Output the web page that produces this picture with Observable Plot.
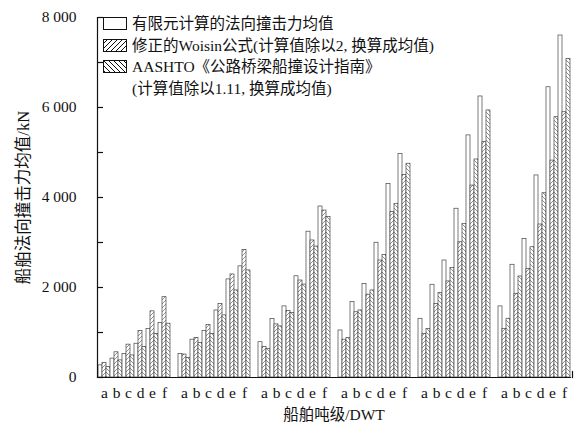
<!DOCTYPE html>
<html>
<head>
<meta charset="utf-8">
<script src="https://cdn.jsdelivr.net/npm/d3@7"></script>
<script src="https://cdn.jsdelivr.net/npm/@observablehq/plot@0.6"></script>
<style>
  body { margin: 0; background: #fff; }
  #wrap { position: relative; width: 577px; height: 431px; overflow: hidden; }
  #legend { position: absolute; left: 103px; top: 13px; font-family: "Liberation Serif", "Noto Sans CJK SC", serif; font-size: 15.5px; line-height: 21.5px; color: #111; }
  #legend .row { display: flex; align-items: center; white-space: nowrap; }
  #legend svg { margin-right: 5px; flex: none; }
  #legend .indent { padding-left: 29px; }
</style>
</head>
<body>
<div id="wrap"><div id="legend"></div></div>
<script>
// ---- data ----
const tonnage = ["1", "2", "3", "4", "5", "6"];          // ship tonnage classes (6 groups)
const cases = ["a", "b", "c", "d", "e", "f"];            // sub-cases under each class
const seriesNames = [
  "有限元计算的法向撞击力均值",
  "修正的Woisin公式(计算值除以2, 换算成均值)",
  "AASHTO《公路桥梁船撞设计指南》(计算值除以1.11, 换算成均值)"
];
// finite element mean normal impact force (kN), rows = tonnage, cols = a..f
const femValues = [
  [270, 420, 525, 750, 1080, 1210],
  [525, 840, 1030, 1490, 2180, 2470],
  [785, 1300, 1580, 2250, 3240, 3800],
  [1045, 1675, 2080, 2995, 4300, 4970],
  [1305, 2060, 2600, 3750, 5380, 6245],
  [1580, 2505, 3080, 4490, 6450, 7600]
];
// modified Woisin formula (/2)
const woisinValues = [
  [320, 560, 730, 1030, 1470, 1785],
  [510, 880, 1170, 1635, 2290, 2835],
  [675, 1180, 1475, 2155, 3045, 3710],
  [840, 1450, 1840, 2600, 3675, 4500],
  [970, 1635, 2135, 3005, 4265, 5230],
  [1080, 1860, 2415, 3400, 4820, 5895]
];
// AASHTO guide (/1.11)
const aashtoValues = [
  [230, 380, 490, 680, 970, 1195],
  [435, 765, 970, 1380, 1935, 2380],
  [635, 1135, 1430, 2065, 2910, 3565],
  [875, 1490, 1935, 2725, 3860, 4750],
  [1080, 1875, 2435, 3415, 4845, 5935],
  [1305, 2245, 2895, 4095, 5785, 7080]
];
const yLabelTicks = [0, 2000, 4000, 6000, 8000];
const yMinorTicks = [0, 1000, 2000, 3000, 4000, 5000, 6000, 7000, 8000];

// ---- table for the library ----
const seriesValues = [femValues, woisinValues, aashtoValues];
const keys = [];
cases.forEach(c => seriesNames.forEach((s, si) => keys.push(c + "-" + si)));
const rows = [];
tonnage.forEach((g, gi) => cases.forEach((c, ci) => seriesNames.forEach((s, si) => {
  rows.push({group: g, key: c + "-" + si, series: s, value: seriesValues[si][gi][ci]});
})));

const fmt = d => d === 0 ? "0" : d3.format(",")(d).replace(/,/g, " ");
const serif = '"Liberation Serif", "Noto Sans CJK SC", serif';

const chart = Plot.plot({
  width: 577,
  height: 431,
  marginLeft: 95,
  marginRight: 6,
  marginTop: 17,
  marginBottom: 54,
  style: {fontFamily: serif, fontSize: "15.5px", color: "#111", background: "white"},
  fx: {domain: tonnage, paddingInner: 0.09, paddingOuter: 0, axis: null, label: null},
  x: {domain: keys, paddingInner: 0, paddingOuter: 0, label: null},
  y: {domain: [0, 8000], label: null},
  color: {domain: seriesNames, range: ["white", "url(#hatchR)", "url(#hatchL)"]},
  marks: [
    Plot.barY(rows, {fx: "group", x: "key", y: "value", fill: "series", stroke: "#444", strokeWidth: 0.7, inset: 0}),
    Plot.axisY({ticks: yLabelTicks, tickSize: 0, tickPadding: 21, tickFormat: fmt, label: null}),
    Plot.tickY(yMinorTicks, {y: d => d, x: () => keys[0], facetAnchor: "left", stroke: "#111", strokeWidth: 1.2, insetRight: -1}),
    Plot.axisX({ticks: keys.filter(k => k.endsWith("-1")), tickFormat: k => k[0], tickSize: 0, tickPadding: 9, label: null}),
    Plot.frame({anchor: "bottom", facet: "super", stroke: "#111", strokeWidth: 1.2}),
    Plot.frame({anchor: "left", facet: "super", stroke: "#111", strokeWidth: 1.2}),
    Plot.frame({anchor: "right", facet: "super", stroke: "#111", strokeWidth: 1.2, insetTop: 354, insetRight: -2}),
    Plot.text(["船舶吨级/DWT"], {facet: "super", frameAnchor: "bottom", dy: 38, lineAnchor: "middle", fontSize: 15.5}),
    Plot.text(["船舶法向撞击力均值/kN"], {facet: "super", frameAnchor: "left", dx: -74, rotate: -90, textAnchor: "middle", lineAnchor: "middle", fontSize: 16.5})
  ]
});

const ns = "http://www.w3.org/2000/svg";
const defs = document.createElementNS(ns, "defs");
defs.innerHTML = `
<pattern id="hatchR" patternUnits="userSpaceOnUse" width="4" height="4">
  <rect width="4" height="4" fill="white"/>
  <path d="M-1,1 l2,-2 M0,4 l4,-4 M3,5 l2,-2" stroke="#777" stroke-width="0.8"/>
</pattern>
<pattern id="hatchL" patternUnits="userSpaceOnUse" width="4" height="4">
  <rect width="4" height="4" fill="white"/>
  <path d="M-1,3 l2,2 M0,0 l4,4 M3,-1 l2,2" stroke="#777" stroke-width="0.8"/>
</pattern>
<pattern id="legR" patternUnits="userSpaceOnUse" width="5" height="5">
  <rect width="5" height="5" fill="white"/>
  <path d="M-1,1 l2,-2 M0,5 l5,-5 M4,6 l2,-2" stroke="#111" stroke-width="1"/>
</pattern>
<pattern id="legL" patternUnits="userSpaceOnUse" width="5" height="5">
  <rect width="5" height="5" fill="white"/>
  <path d="M-1,4 l2,2 M0,0 l5,5 M4,-1 l2,2" stroke="#111" stroke-width="1"/>
</pattern>`;
chart.prepend(defs);

const wrap = document.getElementById("wrap");
wrap.insertBefore(chart, wrap.firstChild);

// legend overlay
const legendFills = ["white", "url(#legR)", "url(#legL)"];
const legendLines = [
  [seriesNames[0]],
  [seriesNames[1]],
  ["AASHTO《公路桥梁船撞设计指南》", "(计算值除以1.11, 换算成均值)"]
];
const legend = document.getElementById("legend");
legendLines.forEach((lines, i) => {
  const row = document.createElement("div");
  row.className = "row";
  row.innerHTML = `<svg width="24" height="13"><rect x="0.5" y="0.5" width="23" height="12" fill="${legendFills[i]}" stroke="#111" stroke-width="1"/></svg><span>${lines[0]}</span>`;
  legend.appendChild(row);
  for (let j = 1; j < lines.length; j++) {
    const extra = document.createElement("div");
    extra.className = "row indent";
    extra.textContent = lines[j];
    legend.appendChild(extra);
  }
});
</script>
</body>
</html>
